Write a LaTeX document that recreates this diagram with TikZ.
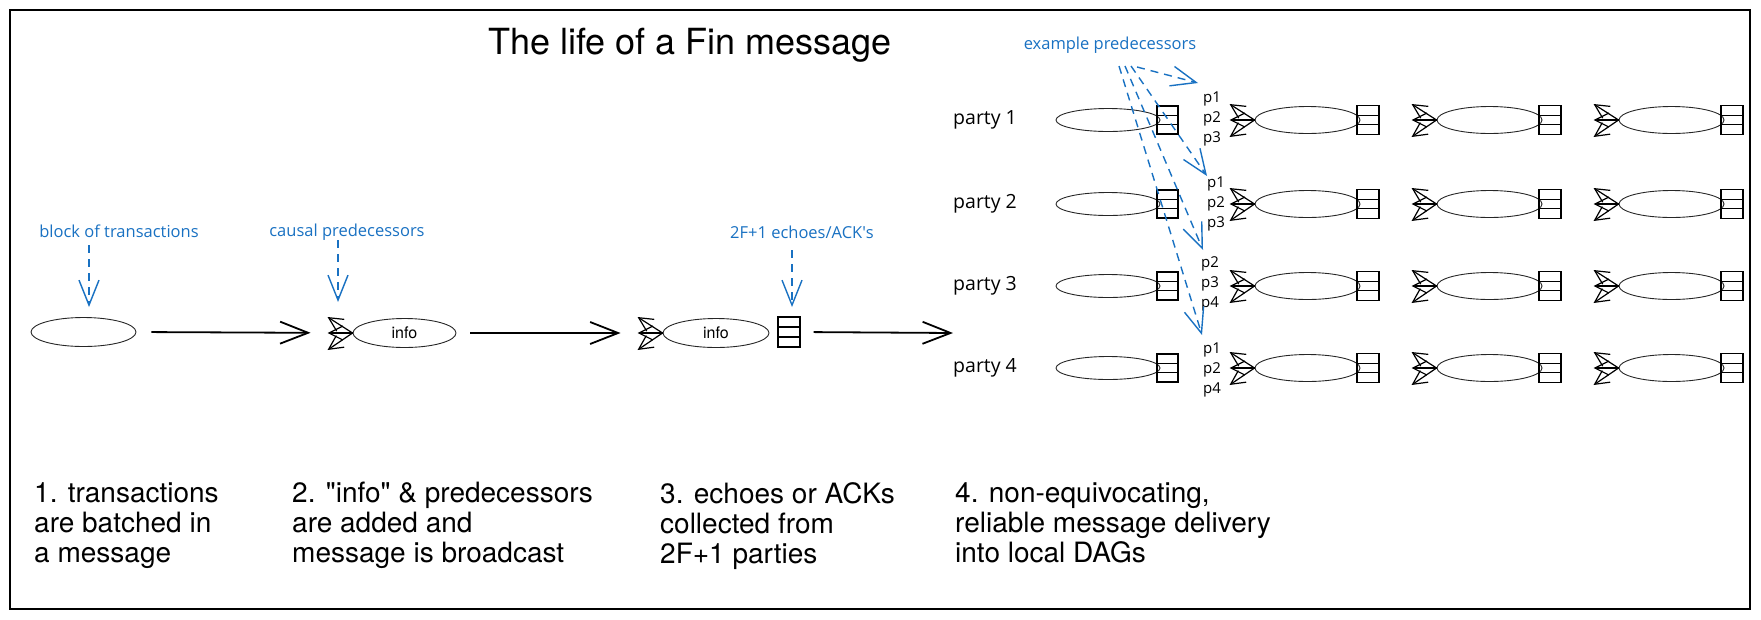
\documentclass[tikz,border=0pt]{standalone}
\usepackage{fontspec}
\setmainfont{TeX Gyre Heros}
\newfontfamily\hand{Open Sans}
\usetikzlibrary{arrows.meta,shapes.geometric,calc}
\definecolor{exblue}{RGB}{25,113,194}
\newcommand\straightdq{\XeTeXglyph\XeTeXcharglyph"22\relax}
\newcommand\straightap{\XeTeXglyph\XeTeXcharglyph"27\relax}
\begin{document}
\begin{tikzpicture}[x=1pt,y=-1pt,
  msg/.style={ellipse, draw=black!85, line width=0.9pt, inner sep=0, minimum width=105pt, minimum height=28pt},
  cellbox/.style={draw, line width=1.3pt, minimum width=22pt, minimum height=29pt, inner sep=0,
    path picture={\draw[line width=1.3pt]
      ($(path picture bounding box.north west)!0.3333!(path picture bounding box.south west)$) -- ($(path picture bounding box.north east)!0.3333!(path picture bounding box.south east)$)
      ($(path picture bounding box.north west)!0.6667!(path picture bounding box.south west)$) -- ($(path picture bounding box.north east)!0.6667!(path picture bounding box.south east)$);}},
  bigarr/.style={line width=1.8pt, -{Straight Barb[length=28pt,width=22pt]}},
  fan/.style={line width=1.2pt, -{Straight Barb[length=14pt,width=14pt]}},
  bluearr/.style={exblue, line width=1.4pt, dash pattern=on 8pt off 6pt, -{Straight Barb[length=25pt,width=20pt]}},
  note/.style={exblue, font=\hand\fontsize{16.5}{19}\selectfont},
  party/.style={font=\hand\fontsize{19.5}{22}\selectfont, anchor=west, inner sep=0},
  plab/.style={font=\hand\fontsize{15}{20}\selectfont, align=center, inner sep=0},
  caption/.style={font=\fontsize{28}{30}\selectfont, align=left, anchor=north west, inner sep=0},
]
\useasboundingbox (0,0) rectangle (1761,619);
\draw[line width=2pt] (10,10) rectangle (1750,609);

\node[font=\fontsize{36}{40}\selectfont] (title) at (690,45) {The life of a Fin message};

% stage 1
\node[msg, minimum height=29pt] (e1) at (83.5,332) {};
\node[note] (n1) at (119,231) {block of transactions};
\coordinate (n1s) at (89,245);
\coordinate (n1e) at (89,307);
\draw[bluearr] (n1s) -- (n1e);

% stage 2
\node[msg, minimum width=103pt, minimum height=29pt, font=\fontsize{16}{18}\selectfont] (e2) at (404.5,333) {info};
\node[note] (n2) at (347,232) {causal predecessors};
\coordinate (n2s) at (338,240);
\coordinate (n2e) at (338,302);
\draw[bluearr] (n2s) -- (n2e);
\draw[bigarr, shorten <=15pt, shorten >=42pt] (e1.east) -- (e2.west);

% stage 3
\node[msg, minimum width=106pt, minimum height=29pt, font=\fontsize{16}{18}\selectfont] (e3) at (716,333) {info};
\node[cellbox, minimum height=30pt] (b3) at (789,332) {};
\node[note] (n3) at (802,232) {2F+1 echoes/ACK\straightap s};
\coordinate (n3s) at (792,250);
\coordinate (n3e) at (792,307);
\draw[bluearr] (n3s) -- (n3e);
\draw[bigarr, shorten <=14pt, shorten >=42pt] (e2.east) -- (e3.west);
\coordinate (a3e) at (953,333);
\draw[bigarr, shorten <=13pt] (b3.east) -- (a3e);

% stage 4: local DAGs
\foreach \r/\y in {1/120,2/204,3/286,4/368}{
  \node[party] (pt\r) at (953,\y) {party \r};
  \node[msg, minimum width=104pt, minimum height=23pt] (d\r1) at (1108,\y) {};
  \node[cellbox, minimum width=21pt, minimum height=28pt] (k\r1) at (1167.5,\y) {};
  \foreach \c/\x in {2/1307.5,3/1489.5,4/1671.5}{
    \node[msg, minimum height=27pt] (d\r\c) at (\x,\y) {};
    \node[cellbox] (k\r\c) at (\x+60.5,\y) {};
  }
}
\node[plab] (pl1) at (1212,119) {p1\\p2\\p3};
\node[plab] (pl2) at (1216,204) {p1\\p2\\p3};
\node[plab] (pl3) at (1210,284) {p2\\p3\\p4};
\node[plab] (pl4) at (1212,370) {p1\\p2\\p4};

% fans of arrowheads
\foreach \n in {e2,e3,d12,d13,d14,d22,d23,d24,d32,d33,d34,d42,d43,d44}{
  \coordinate (\n-fa) at ($(\n.west)+(-25,-16)$);
  \coordinate (\n-fb) at ($(\n.west)+(-25,0)$);
  \coordinate (\n-fc) at ($(\n.west)+(-25,17)$);
  \draw[fan] (\n.west) -- (\n-fa);
  \draw[fan] (\n.west) -- (\n-fb);
  \draw[fan] (\n.west) -- (\n-fc);
}

% example predecessors
\node[note] (ex) at (1110,45) {example predecessors};
\coordinate (x1s) at (1137,67);  \coordinate (x1e) at (1198,83);
\coordinate (x2s) at (1131,66);  \coordinate (x2e) at (1207,176);
\coordinate (x3s) at (1125,66);  \coordinate (x3e) at (1203,250);
\coordinate (x4s) at (1119,66);  \coordinate (x4e) at (1202,335);
\draw[bluearr] (x1s) -- (x1e);
\draw[bluearr] (x2s) -- (x2e);
\draw[bluearr] (x3s) -- (x3e);
\draw[bluearr] (x4s) -- (x4e);

% captions
\node[caption] (c1) at (34,482) {1. transactions\\are batched in\\a message};
\node[caption] (c2) at (292,482) {2. \straightdq info\straightdq{} \& predecessors\\are added and\\message is broadcast};
\node[caption] (c3) at (660,482) {3. echoes or ACKs\\collected from\\2F+1 parties};
\node[caption] (c4) at (955,482) {4. non-equivocating,\\reliable message delivery\\into local DAGs};
\end{tikzpicture}
\end{document}
